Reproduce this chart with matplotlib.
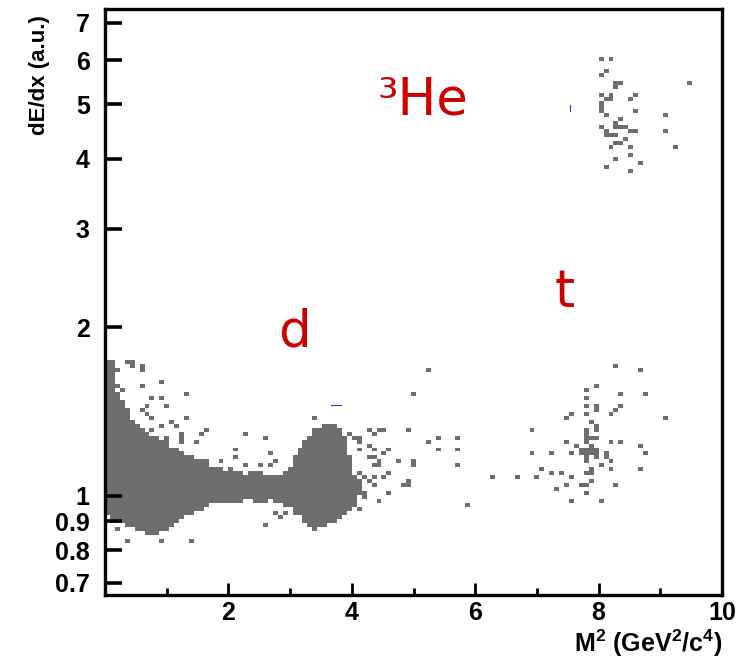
import matplotlib
matplotlib.use("Agg")
import matplotlib.pyplot as plt
import numpy as np
from matplotlib.colors import ListedColormap
from matplotlib.ticker import FixedLocator, NullFormatter

plt.rcParams['font.family'] = ['Liberation Sans', 'DejaVu Sans']
plt.rcParams['font.weight'] = 'bold'
plt.rcParams['mathtext.fontset'] = 'custom'
plt.rcParams['mathtext.rm'] = 'Liberation Sans:bold'
plt.rcParams['mathtext.it'] = 'Liberation Sans:bold'
plt.rcParams['mathtext.bf'] = 'Liberation Sans:bold'

# dense part of the distribution: one row per dE/dx bin, filled from x0 to x1 (M^2)
row_y = [1.740, 1.712, 1.684, 1.657, 1.630, 1.603, 1.577, 1.551, 1.526, 1.501,
         1.477, 1.453, 1.429, 1.406, 1.383, 1.360,
         1.339, 1.339, 1.317, 1.317, 1.295, 1.295, 1.274, 1.274, 1.253, 1.253,
         1.233, 1.233, 1.213, 1.213, 1.193, 1.193, 1.174, 1.174, 1.155, 1.155,
         1.136, 1.136, 1.117, 1.117, 1.099, 1.099, 1.099,
         1.081, 1.063, 1.046, 1.029, 1.012, 0.996,
         0.980, 0.980, 0.980, 0.964, 0.964, 0.948, 0.948, 0.933, 0.933,
         0.918, 0.918, 0.903, 0.903, 0.888, 0.888, 0.873, 0.873, 0.859]
row_x0 = [0.00, 0.00, 0.00, 0.00, 0.00, 0.00, 0.00, 0.00, 0.00, 0.00,
          0.00, 0.00, 0.00, 0.00, 0.00, 0.00,
          0.00, 3.50, 0.00, 3.37, 0.00, 3.33, 0.00, 3.28, 0.00, 3.22,
          0.00, 3.17, 0.00, 3.12, 0.00, 3.09, 0.00, 3.06, 0.00, 3.04,
          0.00, 3.01, 0.00, 2.93, 0.00, 2.36, 2.85,
          0.00, 0.00, 0.00, 0.00, 0.00, 0.00,
          0.00, 2.44, 2.76, 0.00, 2.89, 0.00, 3.01, 0.00, 3.06,
          0.05, 3.17, 0.08, 3.22, 0.33, 3.28, 0.49, 3.33, 0.65]
row_x1 = [0.13, 0.13, 0.21, 0.16, 0.16, 0.16, 0.20, 0.16, 0.20, 0.20,
          0.24, 0.33, 0.36, 0.41, 0.41, 0.49,
          0.57, 3.77, 0.65, 3.82, 0.73, 3.85, 0.89, 3.90, 1.01, 3.90,
          1.06, 3.95, 1.22, 3.95, 1.30, 3.95, 1.41, 3.98, 1.54, 3.98,
          1.71, 3.98, 1.95, 4.02, 2.20, 2.55, 4.02,
          4.11, 4.15, 4.15, 4.18, 4.15, 4.11,
          2.20, 2.60, 4.10, 1.71, 4.07, 1.63, 3.98, 1.46, 3.93,
          1.30, 3.82, 1.22, 3.74, 1.14, 3.61, 1.01, 3.46, 0.89]

# isolated entries (M^2, dE/dx)
pts_x = [0.37, 0.45, 0.45, 0.57, 0.57, 0.93, 0.57, 0.28, 1.35, 0.78, 0.93, 0.28,
         0.70, 1.01, 0.57, 0.70, 1.35, 0.72, 1.06, 1.14, 0.93, 0.78, 1.63, 1.58,
         1.22, 1.25, 2.28, 2.57, 3.41, 0.62, 0.78, 1.01, 1.50, 1.27, 2.15, 2.65,
         1.43, 1.59, 1.66, 1.87, 2.08, 2.00, 2.31, 2.52, 2.65, 2.80, 3.82, 3.93,
         4.03, 4.15, 4.28, 4.42, 4.11, 4.11, 4.26, 4.26, 4.39, 4.42, 4.44, 2.57,
         2.85, 2.73, 2.89, 0.21, 0.36, 0.93, 1.43,
         5.25, 5.01, 3.69, 4.31, 4.36, 4.50, 4.93, 5.37, 5.72, 5.72, 5.25, 4.31,
         4.36, 4.59, 4.50, 5.37, 5.72, 4.31, 4.44, 4.44, 4.75, 5.01, 5.01, 5.72,
         4.36, 4.11, 4.18, 4.59, 4.50, 4.34, 4.31, 6.31, 4.93, 4.88, 4.80, 4.39,
         4.23, 4.59, 4.18, 5.89, 3.98, 4.15,
         8.24, 8.67, 7.95, 7.82, 8.33, 8.73, 7.82, 7.92, 7.97, 7.97, 7.82, 8.33,
         8.24, 8.18, 7.76, 7.53, 7.45, 9.11, 7.89, 7.97, 7.97, 6.91, 7.76, 7.76,
         7.82, 7.89, 7.97, 7.45, 7.61, 7.76, 8.18, 8.33, 8.67, 7.89,
         7.68, 7.76, 7.84, 7.92, 7.68, 7.76, 7.84, 7.92, 7.76, 7.92, 7.84,
         6.95, 7.24, 7.53, 8.10, 8.10, 8.73, 8.18, 7.76, 8.02, 8.18, 8.67, 7.11,
         7.84, 7.84, 7.76, 7.24, 7.38, 6.67, 7.02, 7.59, 7.84, 7.72, 7.82, 7.45,
         8.24, 7.32, 7.76, 7.59, 8.02,
         8.20, 8.07, 8.13, 8.07, 8.24, 8.37, 8.24, 9.50, 8.20, 8.07, 8.60, 8.23,
         8.15, 8.49, 8.07, 8.07, 8.07, 8.13, 8.60, 9.09, 8.37, 8.31, 8.07, 8.07,
         8.33, 8.42, 8.25, 8.13, 8.55, 8.62, 9.09, 8.13, 8.18, 8.31, 8.41, 8.37,
         8.31, 8.49, 8.20, 9.25, 8.55, 8.24, 8.65, 8.13, 8.49]
pts_y = [1.748, 1.748, 1.712, 1.712, 1.671, 1.603, 1.571, 1.551, 1.532, 1.495, 1.495, 1.477,
         1.459, 1.441, 1.423, 1.406, 1.372, 1.372, 1.355, 1.333, 1.333, 1.317, 1.317, 1.300,
         1.300, 1.279, 1.300, 1.279, 1.372, 1.264, 1.264, 1.264, 1.243, 1.243, 1.213, 1.193,
         1.174, 1.155, 1.155, 1.155, 1.174, 1.117, 1.126, 1.140, 1.136, 1.155, 1.317, 1.300,
         1.279, 1.279, 1.317, 1.311, 1.248, 1.213, 1.223, 1.174, 1.174, 1.136, 0.976, 0.891,
         0.918, 0.929, 0.929, 0.866, 0.835, 0.835, 0.835,
         1.671, 1.514, 1.333, 1.317, 1.300, 1.317, 1.317, 1.279, 1.279, 1.264, 1.243, 1.228,
         1.213, 1.213, 1.193, 1.213, 1.213, 1.174, 1.150, 1.126, 1.155, 1.150, 1.131, 1.140,
         1.126, 1.104, 1.086, 1.104, 1.086, 1.081, 1.059, 1.086, 1.063, 1.050, 1.038, 1.038,
         1.017, 1.017, 0.988, 0.960, 0.940, 0.940,
         1.705, 1.671, 1.584, 1.551, 1.514, 1.532, 1.495, 1.459, 1.447, 1.417, 1.441, 1.441,
         1.423, 1.406, 1.406, 1.406, 1.389, 1.372, 1.355, 1.333, 1.317, 1.317, 1.311, 1.300,
         1.279, 1.264, 1.264, 1.243, 1.228, 1.243, 1.243, 1.243, 1.228, 1.228,
         1.213, 1.213, 1.213, 1.213, 1.193, 1.193, 1.193, 1.193, 1.174, 1.174, 1.230,
         1.193, 1.193, 1.193, 1.193, 1.174, 1.193, 1.155, 1.155, 1.136, 1.122, 1.122, 1.122,
         1.122, 1.104, 1.104, 1.104, 1.104, 1.086, 1.086, 1.086, 1.063, 1.050, 1.050, 1.050,
         1.050, 1.033, 1.012, 0.976, 0.976,
         6.06, 5.99, 5.70, 5.65, 5.45, 5.43, 5.36, 5.49, 5.23, 5.19, 5.23, 5.12,
         5.12, 5.08, 5.04, 4.98, 4.86, 4.78, 4.86, 4.80, 4.72, 4.64, 4.57, 4.53,
         4.53, 4.57, 4.53, 4.47, 4.47, 4.46, 4.46, 4.38, 4.40, 4.38, 4.35, 4.26,
         4.24, 4.21, 4.19, 4.19, 4.09, 4.00, 3.95, 3.89, 3.80]

# tiny blue marks
blue_x = [[3.66, 3.82], [7.53, 7.53]]
blue_y = [[1.453, 1.453], [4.86, 4.98]]

labels = ['³He', 'd', 't']
label_x = [4.42, 2.81, 7.28]
label_y = [4.80, 1.85, 2.17]

yticks = [0.7, 0.8, 0.9, 1, 2, 3, 4, 5, 6, 7]
ytick_labels = ['0.7', '0.8', '0.9', '1', '2', '3', '4', '5', '6', '7']

xedges = np.arange(0, 10.0001, 0.08)
yedges = np.geomspace(0.665, 7.4, 148)
xc = (xedges[:-1] + xedges[1:]) / 2

allx = list(pts_x)
ally = list(pts_y)
for y, x0, x1 in zip(row_y, row_x0, row_x1):
    sel = xc[(xc >= x0) & (xc <= x1)]
    allx.extend(sel)
    ally.extend([y] * len(sel))

H, _, _ = np.histogram2d(allx, ally, bins=[xedges, yedges])
H = np.ma.masked_equal(H.T, 0)

fig = plt.figure(figsize=(7.54, 6.65), dpi=100)
ax = fig.add_axes([0.1393, 0.1053, 0.8183, 0.881])
ax.pcolormesh(xedges, yedges, H, cmap=ListedColormap(['#6e6e6e']), vmin=0, vmax=1)
for bx, by in zip(blue_x, blue_y):
    ax.plot(bx, by, color='#3030ff', lw=0.8)

ax.set_yscale('log')
ax.set_xlim(0, 10)
ax.set_ylim(0.665, 7.4)

ax.yaxis.set_major_locator(FixedLocator([1]))
ax.yaxis.set_minor_locator(FixedLocator([0.7, 0.8, 0.9, 2, 3, 4, 5, 6, 7]))
ax.yaxis.set_minor_formatter(NullFormatter())
ax.set_yticks(yticks)
ax.set_yticklabels(ytick_labels)
ax.set_xticks([2, 4, 6, 8, 10])
ax.set_xticks([1, 3, 5, 7, 9], minor=True)

ax.tick_params(axis='both', which='both', direction='in', labelsize=18, width=2)
ax.tick_params(axis='y', which='major', length=12, pad=11, width=2.6)
ax.tick_params(axis='y', which='minor', length=6)
ax.tick_params(axis='x', which='major', length=9, pad=4)
ax.tick_params(axis='x', which='minor', length=5)
for lab in ax.get_xticklabels() + ax.get_yticklabels():
    lab.set_fontweight('bold')
for s in ax.spines.values():
    s.set_linewidth(2.4)

for t, x, y in zip(labels, label_x, label_y):
    ax.text(x, y, t, fontsize=37, color='#cc0000', family='DejaVu Sans',
            fontweight='normal', va='baseline')

fig.text(0.052, 0.977, 'dE/dx (a.u.)', rotation=90, ha='center', va='top',
         fontsize=16, fontweight='bold')
fig.text(0.958, 0.033, 'M$^2$ (GeV$^2$/c$^4$)', ha='right', va='center',
         fontsize=18, fontweight='bold')

fig.savefig('out.png', dpi=100)
